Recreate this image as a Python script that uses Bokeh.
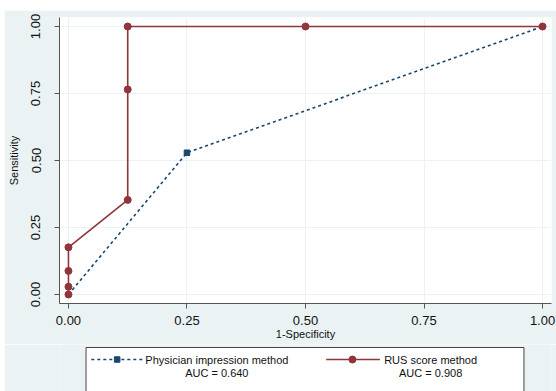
from bokeh.plotting import figure
from bokeh.layouts import column
from bokeh.models import Range1d, FixedTicker, ColumnDataSource
from bokeh.core.properties import value
from bokeh.embed import file_html
from bokeh.resources import INLINE

# ---- data ----
phys_fpr = [0.0, 0.25, 1.0]
phys_tpr = [0.0, 0.529, 1.0]
rus_fpr = [0.0, 0.0, 0.0, 0.0, 0.125, 0.125, 0.125, 0.5, 1.0]
rus_tpr = [0.0, 0.029, 0.088, 0.176, 0.353, 0.765, 1.0, 1.0, 1.0]
ticks = [0.0, 0.25, 0.5, 0.75, 1.0]
tick_labels = ["0.00", "0.25", "0.50", "0.75", "1.00"]
series_names = ["Physician impression method", "RUS score method"]
auc_labels = ["AUC = 0.640", "AUC = 0.908"]

NAVY = "#1A476F"
MAROON = "#90353B"
BG = "#EAF2F3"
FONT = "Liberation Sans"
AXC = "#555555"

LEFT = 4          # page x where the figures start
BL = 56 - LEFT    # left border so that the frame starts at page x 56

p = figure(width=556 - LEFT, height=334, output_backend="svg", toolbar_location=None,
           x_range=Range1d(-0.0189, 1.0189), y_range=Range1d(-0.0336, 1.0336),
           min_border_left=BL, min_border_right=5, min_border_top=7, min_border_bottom=41)
p.border_fill_color = BG
p.background_fill_color = "white"
p.outline_line_color = None

p.line(phys_fpr, phys_tpr, line_color=NAVY, line_width=1.6, line_dash="3 3")
p.scatter(phys_fpr[1:2], phys_tpr[1:2], marker="square", size=5.5, fill_color=NAVY, line_color=NAVY)
p.line(rus_fpr, rus_tpr, line_color=MAROON, line_width=1.6)
p.scatter(rus_fpr, rus_tpr, marker="circle", size=7, fill_color=MAROON, line_color=MAROON)

lab = {t: s for t, s in zip(ticks, tick_labels)}
for ax in (p.xaxis[0], p.yaxis[0]):
    ax.ticker = FixedTicker(ticks=ticks)
    ax.major_label_overrides = lab
    ax.minor_tick_line_color = None
    ax.axis_line_color = AXC
    ax.major_tick_line_color = AXC
    ax.major_tick_in = 0
    ax.major_tick_out = 5
    ax.major_label_text_font = FONT
    ax.major_label_text_font_size = "13px"
    ax.major_label_text_color = "#111111"
    ax.axis_label_text_font = FONT
    ax.axis_label_text_font_size = "11px"
    ax.axis_label_text_font_style = "normal"
    ax.axis_label_text_color = "#111111"

p.xaxis.axis_label = "1-Specificity"
p.yaxis.axis_label = "Sensitivity"
p.yaxis.major_label_orientation = "vertical"
p.xaxis.major_label_standoff = 7
p.xaxis.axis_label_standoff = 0
p.yaxis.major_label_standoff = 14
p.yaxis.axis_label_standoff = 9

p.xgrid.ticker = FixedTicker(ticks=ticks)
p.ygrid.ticker = FixedTicker(ticks=ticks)
p.grid.grid_line_color = BG
p.grid.grid_line_width = 1

# ---- legend panel: frame is aligned with the main frame (page x 56..551) ----
leg = figure(width=556 - LEFT, height=47, output_backend="svg", toolbar_location=None,
             x_range=Range1d(56, 551), y_range=Range1d(391, 344),
             x_axis_type=None, y_axis_type=None,
             min_border=0, min_border_left=BL, min_border_right=5,
             min_border_top=0, min_border_bottom=0)
leg.border_fill_color = BG
leg.background_fill_color = BG
leg.outline_line_color = None
leg.grid.visible = False

leg.quad(left=[82.7], right=[523.3], top=[347], bottom=[420], fill_color="white",
         line_color="#444444", line_width=1)
# physician sample
leg.line([88, 140.7], [359, 359], line_color=NAVY, line_width=1.6, line_dash="3 3")
leg.scatter([114], [359], marker="square", size=5.5, fill_color=NAVY, line_color=NAVY)
# rus sample
leg.line([324.3, 378.3], [359, 359], line_color=MAROON, line_width=1.6)
leg.scatter([350.7], [359], marker="circle", size=7, fill_color=MAROON, line_color=MAROON)

src = ColumnDataSource(dict(x=[214.3, 429.4, 214.3, 429.4], y=[359, 359, 372.7, 372.7],
                            t=series_names + auc_labels))
leg.text(x="x", y="y", text="t", source=src, text_align="center", text_baseline="middle",
         text_font=value(FONT), text_font_size="11px", text_color="#111111")

layout = column(p, leg, spacing=0, margin=(10, 0, 0, LEFT))
open("out.html", "w").write(file_html(layout, INLINE))
